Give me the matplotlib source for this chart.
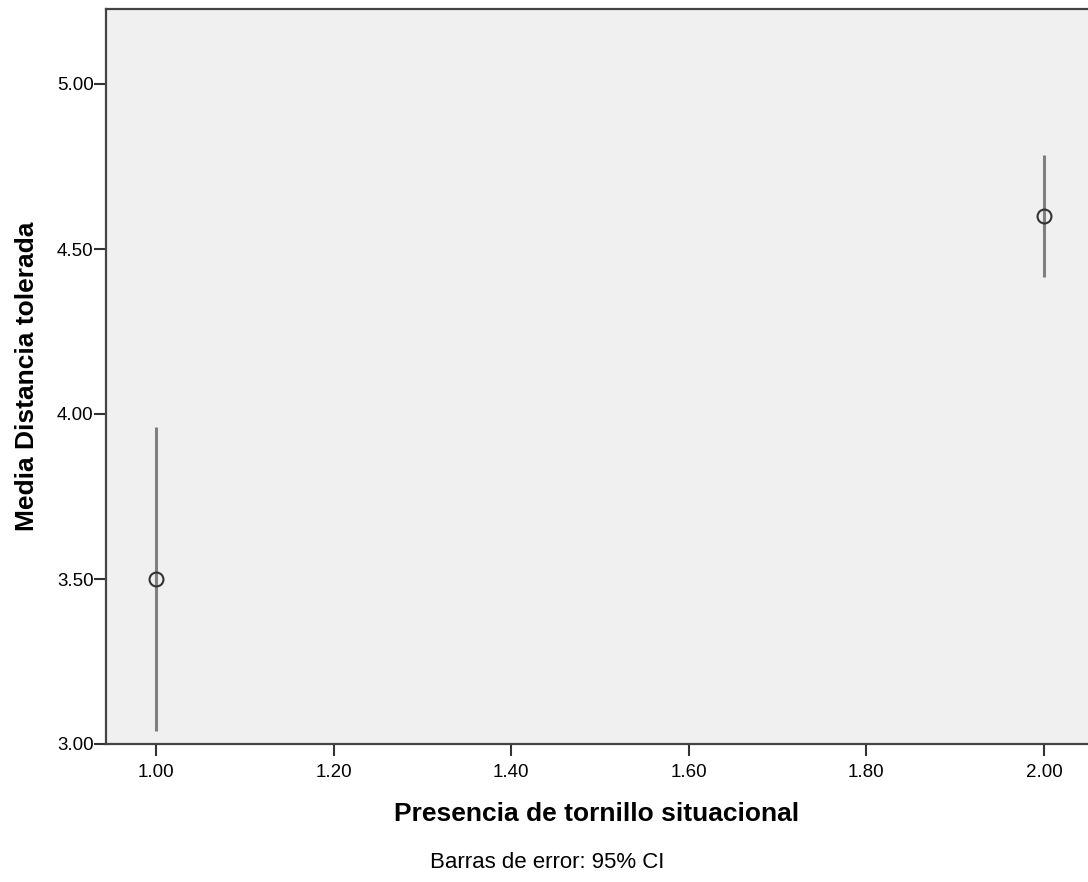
import matplotlib
matplotlib.use('Agg')
import numpy as np
from matplotlib import pyplot as plt

plt.rcParams['font.family'] = ['Liberation Sans', 'DejaVu Sans']

# data
grupos = [1.0, 2.0]
medias = [3.50, 4.60]
ci_low = [3.04, 4.415]
ci_high = [3.96, 4.785]
xticks = [1.0, 1.2, 1.4, 1.6, 1.8, 2.0]
yticks = [3.0, 3.5, 4.0, 4.5, 5.0]

fig = plt.figure(figsize=(10.88, 8.82), dpi=100)
ax = fig.add_axes([106/1088, 138/882, 1 - 106/1088, (744-9)/882])
ax.set_facecolor('#f0f0f0')

medias = np.array(medias)
err = [medias - np.array(ci_low), np.array(ci_high) - medias]
ax.errorbar(grupos, medias, yerr=err, fmt='none', ecolor='#808080', elinewidth=2.2, capsize=0, zorder=2)
ax.plot(grupos, medias, 'o', mfc='none', mec='#333333', ms=10, mew=1.5, zorder=3)

ax.set_xlim(1 - 50/888, 2 + 44/888)
ax.set_ylim(3.0, 5.0 + 75/330)
ax.set_xticks(xticks)
ax.set_xticklabels(['%.2f' % v for v in xticks])
ax.set_yticks(yticks)
ax.set_yticklabels(['%.2f' % v for v in yticks])
ax.tick_params(direction='out', length=8.5, width=1.5, color='#333333', labelsize=13.5)
ax.tick_params(axis='y', pad=0.5)
ax.tick_params(axis='x', pad=6)

for s in ['left', 'bottom', 'top']:
    ax.spines[s].set_color('#444444')
    ax.spines[s].set_linewidth(1.6)
ax.spines['right'].set_visible(False)

ax.set_xlabel('Presencia de tornillo situacional', fontsize=19, fontweight='bold', labelpad=15)
ax.set_ylabel('Media Distancia tolerada', fontsize=19, fontweight='bold', labelpad=13)

fig.text(547/1088, 1 - 863/882, 'Barras de error: 95% CI', ha='center', va='center', fontsize=16)

plt.savefig('out.png', dpi=100)
